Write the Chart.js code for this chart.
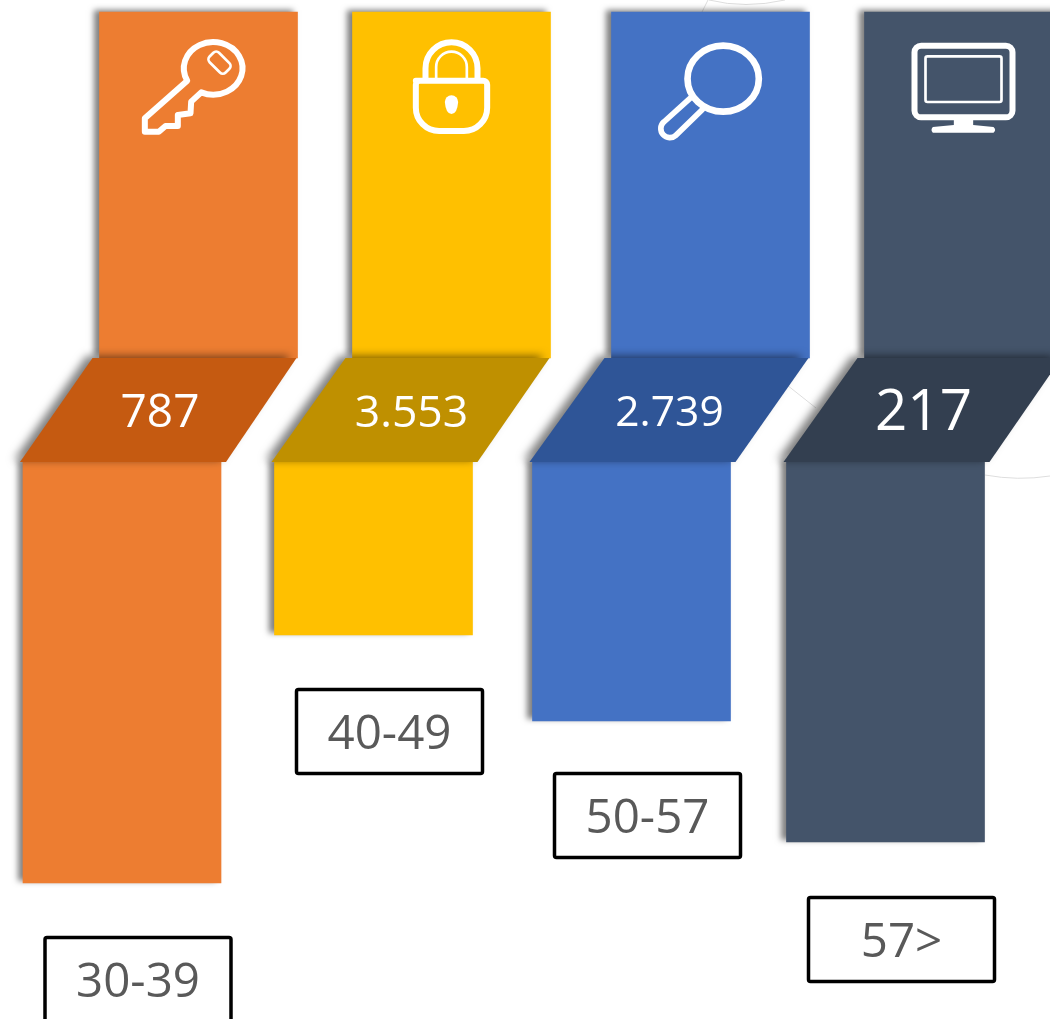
<!DOCTYPE html>
<html>
<head>
<meta charset="utf-8">
<style>
  html, body { margin: 0; padding: 0; background: #fff; overflow: hidden; }
  canvas { display: block; }
</style>
<script src="https://cdn.jsdelivr.net/npm/chart.js@4"></script>
</head>
<body>
<canvas id="chart" width="1050" height="1019"></canvas>
<script>
// data
const ageGroups = ['30-39', '40-49', '50-57', '57>'];
const headcounts = ['787', '3.553', '2.739', '217'];
const lowerLengths = [421, 173, 259, 380];
const upperLengths = [346, 346, 346, 346];

// layout and styles
const lowerCentres = [122, 373.5, 631.5, 885.5];
const upperCentres = [198.5, 451.5, 710.5, 963.5];
const barColors = ['#ED7D31', '#FFC000', '#4472C4', '#44546A'];
const bandColors = ['#C55A11', '#BF9000', '#2F5597', '#333F50'];
const bandFontSizes = [46, 44.5, 42.5, 56.5];
const boxGaps = [54.5, 54.5, 52.5, 55.5];
const bandHeight = 104;
const barWidth = 198;
const font = '"Open Sans", "Noto Sans", sans-serif';

function roundRectPath(ctx, x, y, w, h, r) {
    ctx.beginPath();
    ctx.roundRect(x, y, w, h, r);
}

// icons are drawn in 3x coordinates, origin at the top left of the upper bar
const icons = [
    (ctx) => {
        ctx.lineWidth = 18;
        ctx.beginPath();
        ctx.ellipse(341, 205, 88, 79, 0, 152 * Math.PI / 180, 474 * Math.PI / 180);
        ctx.lineTo(275, 305);
        ctx.lineTo(273, 340);
        ctx.lineTo(235, 345);
        ctx.lineTo(235, 378);
        ctx.lineTo(198, 378);
        ctx.lineTo(178, 395);
        ctx.lineTo(136, 395);
        ctx.lineTo(136, 355);
        ctx.closePath();
        ctx.stroke();
        ctx.save();
        ctx.translate(360, 188);
        ctx.rotate(Math.PI / 4);
        ctx.lineWidth = 8;
        roundRectPath(ctx, -34, -20, 68, 40, 12);
        ctx.stroke();
        ctx.restore();
    },
    (ctx) => {
        ctx.lineWidth = 18;
        ctx.beginPath();
        ctx.moveTo(190, 242);
        ctx.arcTo(404, 242, 404, 393, 12);
        ctx.arcTo(404, 393, 190, 393, 70);
        ctx.arcTo(190, 393, 190, 242, 70);
        ctx.arcTo(190, 242, 404, 242, 12);
        ctx.closePath();
        ctx.stroke();
        ctx.beginPath();
        ctx.moveTo(219, 240);
        ctx.lineTo(219, 205);
        ctx.arc(297, 205, 78, Math.PI, 0);
        ctx.lineTo(375, 240);
        ctx.stroke();
        ctx.lineWidth = 8;
        ctx.beginPath();
        ctx.moveTo(251, 236);
        ctx.lineTo(251, 201);
        ctx.arc(297, 201, 46, Math.PI, 0);
        ctx.lineTo(343, 236);
        ctx.stroke();
        ctx.beginPath();
        ctx.arc(297, 306, 20, Math.PI, 0);
        ctx.quadraticCurveTo(314, 342, 297, 342);
        ctx.quadraticCurveTo(280, 342, 277, 306);
        ctx.fill();
    },
    (ctx) => {
        ctx.lineWidth = 20;
        ctx.beginPath();
        ctx.ellipse(335, 236, 107, 99, 0, 0, Math.PI * 2);
        ctx.stroke();
        ctx.lineWidth = 17;
        ctx.beginPath();
        ctx.moveTo(238, 293);
        ctx.lineTo(157, 366);
        ctx.arc(175, 386, 27, -132 * Math.PI / 180, 45 * Math.PI / 180, true);
        ctx.lineTo(272, 329);
        ctx.stroke();
    },
    (ctx) => {
        ctx.lineWidth = 18;
        roundRectPath(ctx, 150, 137, 294, 215, 20);
        ctx.stroke();
        ctx.lineWidth = 8;
        roundRectPath(ctx, 183, 169, 228, 137, 6);
        ctx.stroke();
        ctx.beginPath();
        ctx.moveTo(268, 360);
        ctx.lineTo(268, 375);
        ctx.lineTo(205, 381);
        ctx.quadraticCurveTo(197, 390, 205, 398);
        ctx.lineTo(387, 398);
        ctx.quadraticCurveTo(397, 390, 387, 381);
        ctx.lineTo(326, 375);
        ctx.lineTo(326, 360);
        ctx.closePath();
        ctx.fill();
    }
];

function setShadow(ctx, blur, dx, dy) {
    ctx.shadowColor = 'rgba(0, 0, 0, 0.5)';
    ctx.shadowBlur = blur;
    ctx.shadowOffsetX = dx;
    ctx.shadowOffsetY = dy;
}

// faint circle outlines that sit behind the shapes
const backgroundArcs = {
    id: 'backgroundArcs',
    beforeDatasetsDraw(chart) {
        const ctx = chart.ctx;
        ctx.save();
        ctx.strokeStyle = '#dedede';
        ctx.lineWidth = 1;
        ctx.beginPath();
        ctx.moveTo(709, 0);
        ctx.quadraticCurveTo(745, 9, 785, 0);
        ctx.moveTo(708, 0);
        ctx.lineTo(702, 12);
        ctx.moveTo(787, 385);
        ctx.lineTo(816, 408);
        ctx.moveTo(985, 475);
        ctx.quadraticCurveTo(1018, 481, 1050, 476);
        ctx.stroke();
        ctx.restore();
    }
};

const barShadows = {
    id: 'barShadows',
    beforeDatasetDraw(chart) {
        chart.ctx.save();
        setShadow(chart.ctx, 6, -5, -2);
    },
    afterDatasetDraw(chart) {
        chart.ctx.restore();
    }
};

const overlays = {
    id: 'overlays',
    afterDatasetsDraw(chart) {
        const ctx = chart.ctx;
        const x = chart.scales.x;
        const y = chart.scales.y;
        const bandTop = y.getPixelForValue(-bandHeight);
        const bandBottom = y.getPixelForValue(0);

        ageGroups.forEach((group, i) => {
            const lowerX = x.getPixelForValue(lowerCentres[i]);
            const upperX = x.getPixelForValue(upperCentres[i]);

            // slanted band that joins the two bars
            ctx.save();
            setShadow(ctx, 8, -6, -2);
            ctx.fillStyle = bandColors[i];
            ctx.beginPath();
            ctx.moveTo(upperX - 106, bandTop);
            ctx.lineTo(upperX + 98, bandTop);
            ctx.lineTo(lowerX + 104, bandBottom);
            ctx.lineTo(lowerX - 102, bandBottom);
            ctx.closePath();
            ctx.fill();
            ctx.restore();

            ctx.fillStyle = '#fff';
            ctx.textAlign = 'center';
            ctx.textBaseline = 'middle';
            ctx.font = bandFontSizes[i] + 'px ' + font;
            ctx.fillText(headcounts[i], lowerX + 38, bandTop + 56);

            // age label box under the lower bar
            const boxX = lowerX + 16;
            const boxTop = y.getPixelForValue(lowerLengths[i]) + boxGaps[i];
            ctx.strokeStyle = '#000';
            ctx.lineWidth = 3.5;
            roundRectPath(ctx, boxX - 93, boxTop, 186, 84, 2);
            ctx.stroke();
            ctx.fillStyle = '#595959';
            ctx.font = '47.5px ' + font;
            ctx.fillText(group, boxX, boxTop + 46);

            // icon at the head of the upper bar
            ctx.save();
            ctx.translate(upperX - barWidth / 2, y.getPixelForValue(-bandHeight - upperLengths[i]) - 12);
            ctx.scale(1 / 3, 1 / 3);
            ctx.strokeStyle = '#fff';
            ctx.fillStyle = '#fff';
            ctx.lineJoin = 'round';
            ctx.lineCap = 'round';
            icons[i](ctx);
            ctx.restore();
        });
    }
};

new Chart(document.getElementById('chart'), {
    type: 'bar',
    data: {
        datasets: [
            {
                label: 'upper',
                data: ageGroups.map((g, i) => ({ x: upperCentres[i], y: [-bandHeight - upperLengths[i], -bandHeight] })),
                backgroundColor: barColors,
                barThickness: barWidth,
                grouped: false
            },
            {
                label: 'lower',
                data: ageGroups.map((g, i) => ({ x: lowerCentres[i], y: [0, lowerLengths[i]] })),
                backgroundColor: barColors,
                barThickness: barWidth,
                grouped: false
            }
        ]
    },
    options: {
        responsive: false,
        animation: false,
        layout: { padding: 0 },
        plugins: {
            legend: { display: false },
            tooltip: { enabled: false }
        },
        scales: {
            x: { type: 'linear', min: 0, max: 1050, offset: false, display: false },
            y: { min: -462, max: 557, reverse: true, display: false }
        }
    },
    plugins: [backgroundArcs, barShadows, overlays]
});
</script>
</body>
</html>
